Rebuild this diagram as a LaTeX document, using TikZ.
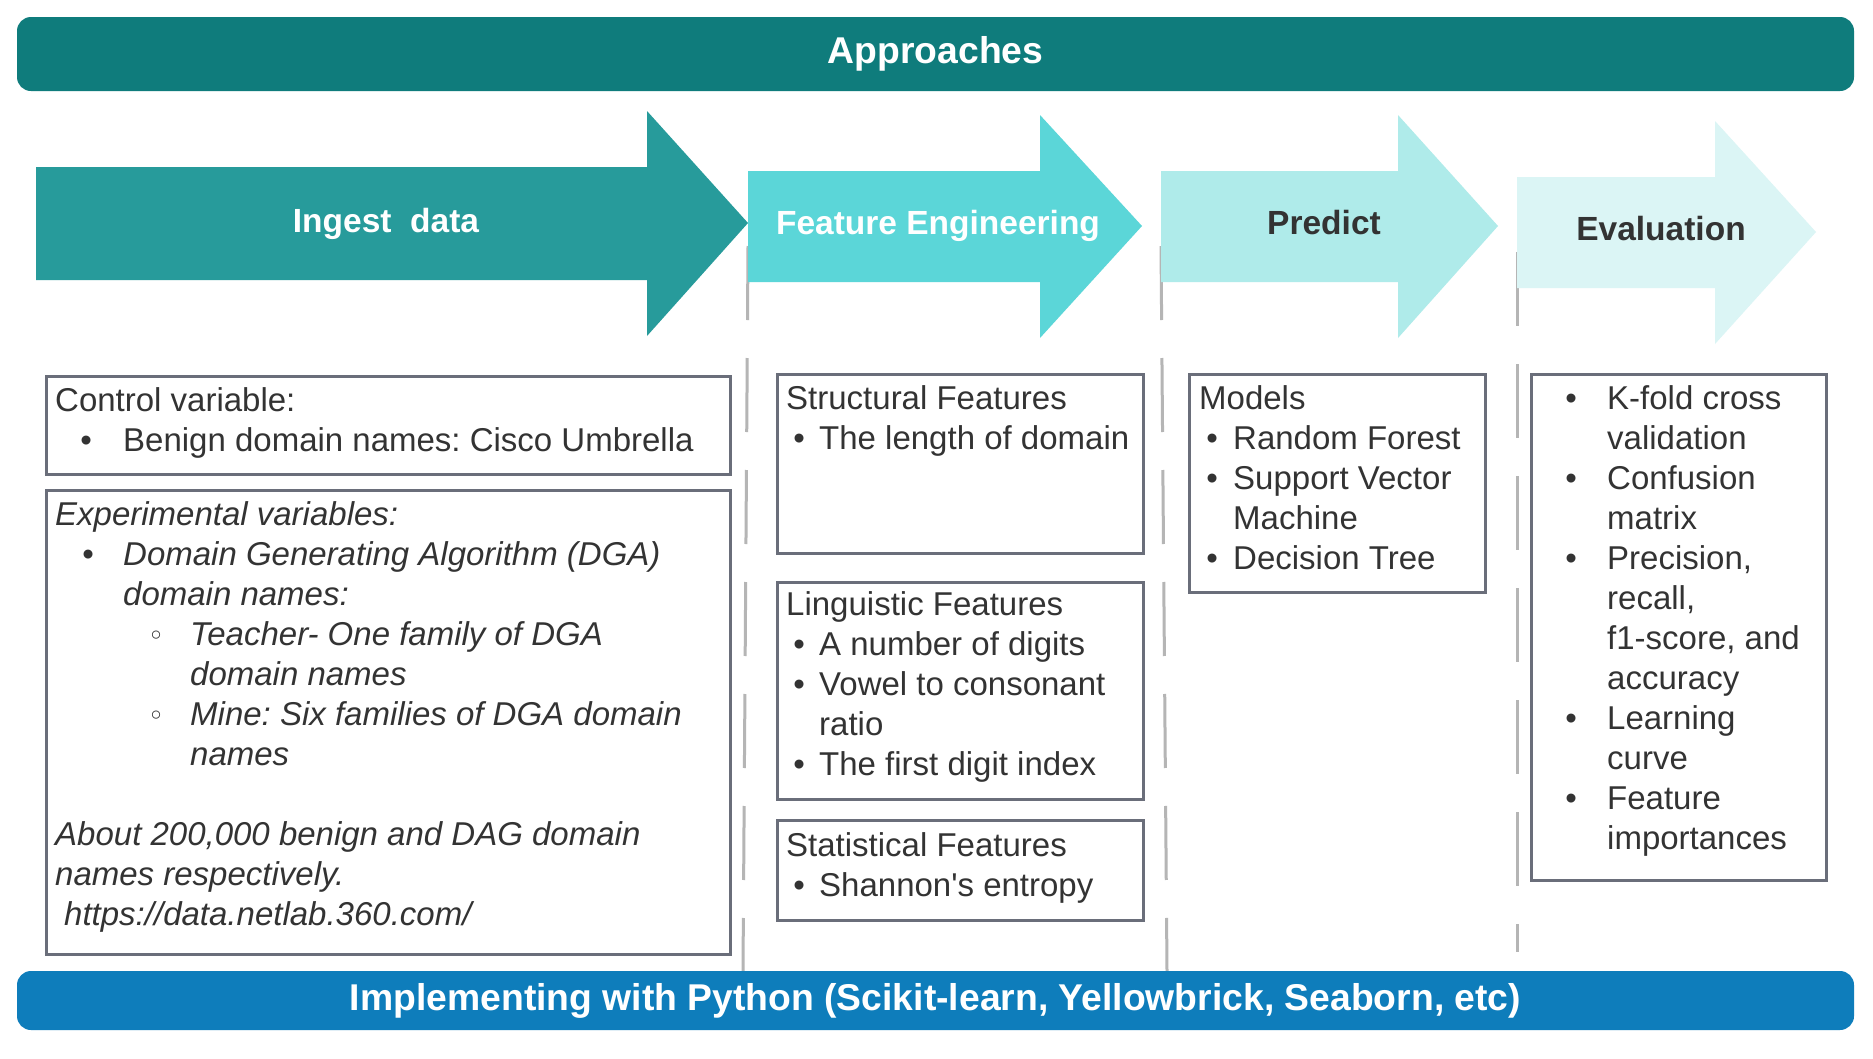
\documentclass[tikz,border=0pt]{standalone}
\usepackage{fontspec}
\setmainfont{Liberation Sans}[Ligatures=TeXOff]
\newfontfamily\symf{DejaVu Sans}
\definecolor{topc}{HTML}{0F7C7C}
\definecolor{botc}{HTML}{0E7DBB}
\definecolor{arA}{HTML}{279B9B}
\definecolor{arB}{HTML}{5BD6D8}
\definecolor{arC}{HTML}{AFEBEA}
\definecolor{arD}{HTML}{DBF5F5}
\definecolor{boxc}{HTML}{6A6E7A}
\definecolor{sepc}{HTML}{B5B5B5}
\definecolor{txtc}{HTML}{333333}
\frenchspacing
\newcommand{\itm}[2]{\makebox[0pt][l]{\hspace*{#1pt}\makebox[0pt][c]{\upshape •}}\hspace*{#2pt}}
\newcommand{\sitm}[2]{\makebox[0pt][l]{\hspace*{#1pt}\makebox[0pt][c]{\raisebox{0pt}{\upshape\symf\fontsize{28}{28}\selectfont ◦}}}\hspace*{#2pt}}
\begin{document}
\begin{tikzpicture}[x=1pt,y=-1pt,
  bar/.style={rounded corners=14pt, minimum width=1837pt, inner sep=0pt, text=white, font=\fontsize{37.3}{44}\selectfont\bfseries},
  box/.style={draw=boxc, line width=2.5pt, fill=white, inner sep=0pt, anchor=north west},
  txt/.style={anchor=base west, inner sep=0pt, text=txtc, font=\fontsize{33}{40}\selectfont},
  lbl/.style={anchor=base, inner sep=0pt, font=\fontsize{33.5}{40}\selectfont\bfseries},
  sep/.style={draw=sepc, line width=3pt, dash pattern=on 74pt off 38pt}]
\useasboundingbox (0,0) rectangle (1873,1058);
\fill[white] (0,0) rectangle (1873,1058);

% dashed separators
\coordinate (s1a) at (748,246); \coordinate (s1b) at (743,971);
\coordinate (s2a) at (1161,246); \coordinate (s2b) at (1167,971);
\coordinate (s3a) at (1517,252); \coordinate (s3b) at (1517,952);
\draw[sep] (s1a) -- (s1b);
\draw[sep] (s2a) -- (s2b);
\draw[sep] (s3a) -- (s3b);

% top bar
\node[bar, fill=topc, minimum height=74pt] (approaches) at (935.5,54) {Approaches};

% process arrows
\fill[arA] (36,167) -- (647,167) -- (647,111) -- (748,223) -- (647,336) -- (647,280) -- (36,280) -- cycle;
\fill[arB] (748,171) -- (1040,171) -- (1040,115) -- (1142,226) -- (1040,338) -- (1040,282) -- (748,282) -- cycle;
\fill[arC] (1161,171) -- (1398,171) -- (1398,115) -- (1498,226) -- (1398,338) -- (1398,282) -- (1161,282) -- cycle;
\fill[arD] (1517,177) -- (1715,177) -- (1715,121) -- (1816,232) -- (1715,344) -- (1715,288) -- (1517,288) -- cycle;
\node[lbl, text=white] (ingest) at (386,232) {Ingest\ \ data};
\node[lbl, text=white] (feat) at (938,234) {Feature Engineering};
\node[lbl, text=txtc] (pred) at (1324,234) {Predict};
\node[lbl, text=txtc] (evall) at (1661,240) {Evaluation};

% boxes
\node[box, minimum width=684pt, minimum height=98pt] (ctrl) at (45,375) {};
\node[box, minimum width=684pt, minimum height=464pt] (expv) at (45,489) {};
\node[box, minimum width=366pt, minimum height=179pt] (struct) at (776,373) {};
\node[box, minimum width=366pt, minimum height=217pt] (ling) at (776,581) {};
\node[box, minimum width=366pt, minimum height=100pt] (stat) at (776,819) {};
\node[box, minimum width=296pt, minimum height=218pt] (models) at (1188,373) {};
\node[box, minimum width=295pt, minimum height=506pt] (evalbox) at (1530,373) {};

% box texts
\node[txt] (ctrlT) at (55,411) {\parbox[t]{665pt}{Control variable:\\
\itm{31}{68}Benign domain names: Cisco Umbrella}};
\node[txt] (expT) at (55,525) {\parbox[t]{665pt}{\itshape Experimental variables:\\
\itm{33}{68}Domain Generating Algorithm (DGA)\\
\hspace*{68pt}domain names:\\
\sitm{101}{135}Teacher- One family of DGA\\
\hspace*{135pt}domain names\\
\sitm{101}{135}Mine: Six families of DGA domain\\
\hspace*{135pt}names\\
\mbox{}\\
About 200,000 benign and DAG domain\\
names respectively.\\
\hspace*{9pt}https://data.netlab.360.com/}};
\node[txt] (structT) at (786,409) {\parbox[t]{350pt}{Structural Features\\
\itm{13}{33}The length of domain}};
\node[txt] (lingT) at (786,615) {\parbox[t]{350pt}{Linguistic Features\\
\itm{13}{33}A number of digits\\
\itm{13}{33}Vowel to consonant\\
\hspace*{33pt}ratio\\
\itm{13}{33}The first digit index}};
\node[txt] (statT) at (786,856) {\parbox[t]{350pt}{Statistical Features\\
\itm{13}{33}Shannon's entropy}};
\node[txt] (modelsT) at (1199,409) {\parbox[t]{280pt}{Models\\
\itm{13}{34}Random Forest\\
\itm{13}{34}Support Vector\\
\hspace*{34pt}Machine\\
\itm{13}{34}Decision Tree}};
\node[txt] (evalT) at (1540,409) {\parbox[t]{280pt}{\itm{31}{67}K-fold cross\\
\hspace*{67pt}validation\\
\itm{31}{67}Confusion\\
\hspace*{67pt}matrix\\
\itm{31}{67}Precision,\\
\hspace*{67pt}recall,\\
\hspace*{67pt}f1-score, and\\
\hspace*{67pt}accuracy\\
\itm{31}{67}Learning\\
\hspace*{67pt}curve\\
\itm{31}{67}Feature\\
\hspace*{67pt}importances}};

% bottom bar
\node[bar, fill=botc, minimum height=59pt] (impl) at (935.5,1000.5) {Implementing with Python (Scikit-learn, Yellowbrick, Seaborn, etc)};
\end{tikzpicture}
\end{document}
